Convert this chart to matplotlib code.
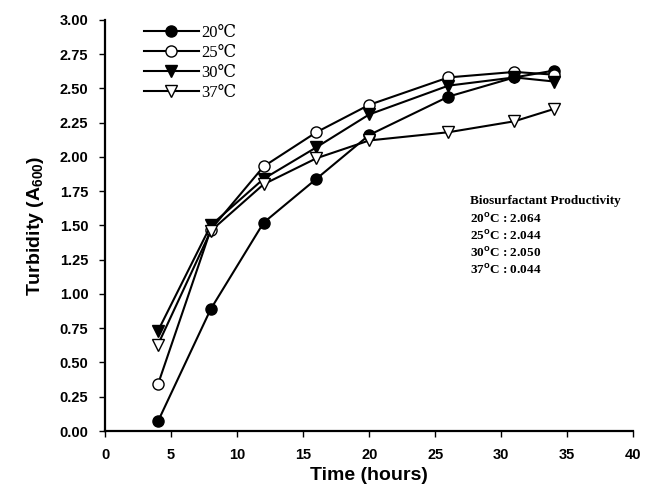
import matplotlib
matplotlib.use("Agg")
import matplotlib.pyplot as plt

time_h = [4, 8, 12, 16, 20, 26, 31, 34]
t20 = [0.07, 0.89, 1.52, 1.84, 2.16, 2.44, 2.58, 2.63]
t25 = [0.34, 1.47, 1.93, 2.18, 2.38, 2.58, 2.62, 2.60]
t30 = [0.73, 1.50, 1.84, 2.07, 2.31, 2.52, 2.58, 2.55]
t37 = [0.63, 1.46, 1.80, 1.99, 2.12, 2.18, 2.26, 2.35]
labels = ["20\u2103", "25\u2103", "30\u2103", "37\u2103"]
prod_labels = ["20", "25", "30", "37"]
prod_values = ["2.064", "2.044", "2.050", "0.044"]

plt.rcParams['mathtext.fontset'] = 'custom'
plt.rcParams['mathtext.rm'] = 'Liberation Sans:bold'
plt.rcParams['mathtext.bf'] = 'Liberation Sans:bold'

fig = plt.figure(figsize=(6.57, 4.96), dpi=100)
ax = fig.add_axes([0.16, 0.131, 0.804, 0.829])

series = [t20, t25, t30, t37]
styles = [dict(marker='o', mfc='black'), dict(marker='o', mfc='white'),
          dict(marker='v', mfc='black'), dict(marker='v', mfc='white')]
handles = []
for ys, st, lab in zip(series, styles, labels):
    h, = ax.plot(time_h, ys, color='black', lw=1.5, marker=st['marker'],
                 mfc=st['mfc'], mec='black', mew=1.0, ms=8, label=lab)
    handles.append(h)

ax.set_xlim(0, 40)
ax.set_ylim(0, 3.0)
ax.set_xticks(range(0, 41, 5))
ax.set_yticks([i * 0.25 for i in range(13)])
ax.set_yticklabels([f"{i*0.25:.2f}" for i in range(13)])
for s in ['top', 'right']:
    ax.spines[s].set_visible(False)
for s in ['left', 'bottom']:
    ax.spines[s].set_linewidth(1.6)
ax.tick_params(direction='out', length=4, width=1.0, pad=8)
for lbl in ax.get_xticklabels() + ax.get_yticklabels():
    lbl.set_fontfamily('Liberation Sans')
    lbl.set_fontweight('bold')
    lbl.set_fontsize(10.5)

ax.set_xlabel("Time (hours)", fontfamily='Liberation Sans', fontweight='bold', fontsize=14, labelpad=4)
ax.set_ylabel("Turbidity (A$_{600}$)", fontfamily='Liberation Sans', fontweight='bold', fontsize=14, labelpad=10)

leg = ax.legend(handles=handles, loc='upper left', bbox_to_anchor=(0.045, 1.025),
                frameon=False, handlelength=3.3, handletextpad=0.15, labelspacing=0.25,
                prop={'family': ['Liberation Serif', 'DejaVu Serif'], 'size': 12})

x0 = 27.6
ax.text(x0, 1.675, "Biosurfactant Productivity", fontfamily='Liberation Serif',
        fontweight='bold', fontsize=9.5, va='center')
for i, (pl, pv) in enumerate(zip(prod_labels, prod_values)):
    ax.text(x0, 1.545 - i * 0.123, f"{pl}$^{{\\mathrm{{o}}}}$C : {pv}",
            fontfamily='Liberation Serif', fontweight='bold', fontsize=9.5, va='center')

fig.savefig("out.png", dpi=100)
